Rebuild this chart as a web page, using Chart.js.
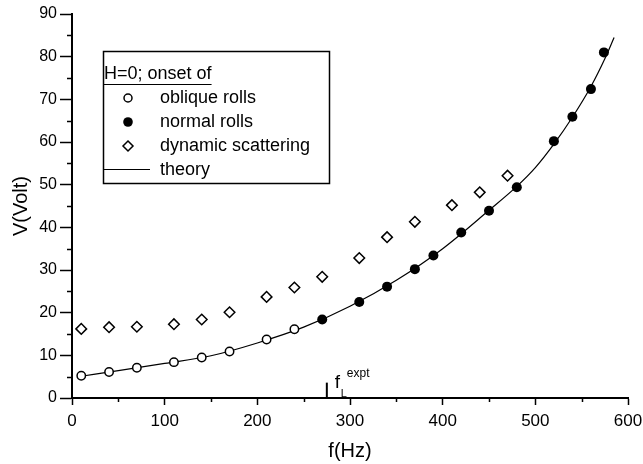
<!DOCTYPE html>
<html>
<head>
<meta charset="utf-8">
<script src="https://cdn.jsdelivr.net/npm/chart.js@4"></script>
<style>
  body { margin: 0; background: #fff; }
  #wrap { width: 643px; height: 464px; }
</style>
</head>
<body>
<div id="wrap"><canvas id="chart" width="643" height="464"></canvas></div>
<script>
// data
const obliqueF = [10, 40, 70, 110, 140, 170, 210, 240];
const obliqueV = [5.2, 6.1, 7.1, 8.4, 9.5, 10.9, 13.7, 16.1];

const normalF = [270, 310, 340, 370, 390, 420, 450, 480, 520, 540, 560, 574];
const normalV = [18.4, 22.5, 26.1, 30.2, 33.4, 38.8, 43.9, 49.4, 60.2, 65.9, 72.4, 81.0];

const dynF = [10, 40, 70, 110, 140, 170, 210, 240, 270, 310, 340, 370, 410, 440, 470];
const dynV = [16.2, 16.6, 16.7, 17.3, 18.4, 20.1, 23.7, 25.9, 28.4, 32.8, 37.7, 41.3, 45.2, 48.2, 52.1];

const theoryF = [10, 50, 100, 150, 200, 250, 300, 350, 400, 450, 480, 500, 520, 540, 560, 575, 585];
const theoryV = [5.1, 6.4, 8.1, 9.9, 12.9, 16.6, 21.5, 27.6, 35.0, 44.0, 49.6, 54.0, 59.5, 65.8, 73.0, 79.5, 84.5];

// f_L expt marker
const fLF = [275, 275];
const fLV = [0, 3.6];

const xMinor = [50, 150, 250, 350, 450, 550];
const yMinor = [5, 15, 25, 35, 45, 55, 65, 75, 85];

const pts = (xs, ys) => xs.map((x, i) => ({ x: x, y: ys[i] }));
const FONT = "'Liberation Sans', Arial, Helvetica, sans-serif";

// minor ticks on both axes
const minorTicks = {
  id: 'minorTicks',
  afterDraw(chart) {
    const { ctx, scales: { x, y } } = chart;
    ctx.save();
    ctx.strokeStyle = '#000';
    ctx.lineWidth = 1.5;
    ctx.beginPath();
    xMinor.forEach(v => {
      const px = Math.round(x.getPixelForValue(v)) + 0.5;
      ctx.moveTo(px, y.bottom);
      ctx.lineTo(px, y.bottom + 4);
    });
    yMinor.forEach(v => {
      const py = Math.round(y.getPixelForValue(v)) + 0.5;
      ctx.moveTo(x.left, py);
      ctx.lineTo(x.left - 5, py);
    });
    ctx.stroke();
    ctx.restore();
  }
};

// boxed legend + f_L label
const annotations = {
  id: 'annotations',
  afterDraw(chart) {
    const { ctx, scales: { x, y } } = chart;
    ctx.save();

    // legend box
    ctx.strokeStyle = '#000';
    ctx.lineWidth = 1.5;
    ctx.strokeRect(103.5, 51.5, 226, 132);

    ctx.fillStyle = '#000';
    ctx.textBaseline = 'middle';
    ctx.font = '18px ' + FONT;
    ctx.fillText('H=0; onset of', 104, 74);
    const w = ctx.measureText('H=0; onset of').width;
    ctx.lineWidth = 1.2;
    ctx.beginPath();
    ctx.moveTo(104, 84.5);
    ctx.lineTo(104 + w, 84.5);
    ctx.stroke();

    const mx = 128, tx = 160;
    ctx.fillText('oblique rolls', tx, 98);
    ctx.fillText('normal rolls', tx, 122);
    ctx.fillText('dynamic scattering', tx, 146);
    ctx.fillText('theory', tx, 170);

    ctx.lineWidth = 1.5;
    ctx.beginPath();
    ctx.arc(mx, 98, 4, 0, Math.PI * 2);
    ctx.fillStyle = '#fff';
    ctx.fill();
    ctx.stroke();

    ctx.beginPath();
    ctx.arc(mx, 122, 4.8, 0, Math.PI * 2);
    ctx.fillStyle = '#000';
    ctx.fill();

    ctx.beginPath();
    ctx.moveTo(mx, 141);
    ctx.lineTo(mx + 5, 146);
    ctx.lineTo(mx, 151);
    ctx.lineTo(mx - 5, 146);
    ctx.closePath();
    ctx.stroke();

    ctx.lineWidth = 1;
    ctx.beginPath();
    ctx.moveTo(104, 169.5);
    ctx.lineTo(150, 169.5);
    ctx.stroke();

    // f_L^expt label
    const px = x.getPixelForValue(fLF[0]);
    ctx.fillStyle = '#000';
    ctx.textBaseline = 'alphabetic';
    ctx.font = '19px ' + FONT;
    ctx.fillText('f', px + 8, 388);
    ctx.font = '11px ' + FONT;
    ctx.fillText('L', px + 14, 397);
    ctx.font = '12px ' + FONT;
    ctx.fillText('expt', px + 20, 377);

    ctx.restore();
  }
};

new Chart(document.getElementById('chart'), {
  type: 'scatter',
  data: {
    datasets: [
      {
        label: 'theory',
        type: 'line',
        data: pts(theoryF, theoryV),
        borderColor: '#000',
        borderWidth: 1.2,
        pointRadius: 0,
        fill: false,
        cubicInterpolationMode: 'monotone',
        order: 3
      },
      {
        label: 'fL',
        type: 'line',
        data: pts(fLF, fLV),
        borderColor: '#000',
        borderWidth: 2,
        pointRadius: 0,
        fill: false,
        order: 3
      },
      {
        label: 'oblique rolls',
        data: pts(obliqueF, obliqueV),
        pointStyle: 'circle',
        pointRadius: 4.2,
        pointBorderWidth: 1.5,
        pointBorderColor: '#000',
        pointBackgroundColor: '#fff',
        order: 1
      },
      {
        label: 'normal rolls',
        data: pts(normalF, normalV),
        pointStyle: 'circle',
        pointRadius: 5,
        pointBorderWidth: 0,
        pointBorderColor: '#000',
        pointBackgroundColor: '#000',
        order: 1
      },
      {
        label: 'dynamic scattering',
        data: pts(dynF, dynV),
        pointStyle: 'rectRot',
        pointRadius: 5.3,
        pointBorderWidth: 1.5,
        pointBorderColor: '#000',
        pointBackgroundColor: '#fff',
        order: 1
      }
    ]
  },
  options: {
    responsive: false,
    animation: false,
    devicePixelRatio: 1,
    layout: { padding: { top: 14, right: 15, left: 0, bottom: 0 } },
    plugins: {
      legend: { display: false },
      tooltip: { enabled: false }
    },
    scales: {
      x: {
        type: 'linear',
        min: 0,
        max: 600,
        afterFit: s => { s.height = 66; s.paddingRight = 0; s.paddingLeft = 0; },
        border: { display: true, color: '#000', width: 2 },
        grid: { drawOnChartArea: false, drawTicks: true, tickLength: 7, tickColor: '#000', tickWidth: 1.5 },
        ticks: {
          stepSize: 100,
          color: '#000',
          font: { family: FONT, size: 17 },
          padding: 6,
          maxRotation: 0,
          autoSkip: false
        },
        title: {
          display: true,
          text: 'f(Hz)',
          color: '#000',
          font: { family: FONT, size: 20 },
          padding: { top: 0, bottom: 1 }
        }
      },
      y: {
        type: 'linear',
        min: 0,
        max: 90,
        afterFit: s => { s.width = 72; },
        border: { display: true, color: '#000', width: 2 },
        grid: { drawOnChartArea: false, drawTicks: true, tickLength: 12, tickColor: '#000', tickWidth: 1.5 },
        ticks: {
          stepSize: 10,
          color: '#000',
          font: { family: FONT, size: 16 },
          padding: 3,
          autoSkip: false
        },
        title: {
          display: true,
          text: 'V(Volt)',
          color: '#000',
          font: { family: FONT, size: 20 },
          padding: { top: 9, bottom: 0 }
        }
      }
    }
  },
  plugins: [minorTicks, annotations]
});
</script>
</body>
</html>
